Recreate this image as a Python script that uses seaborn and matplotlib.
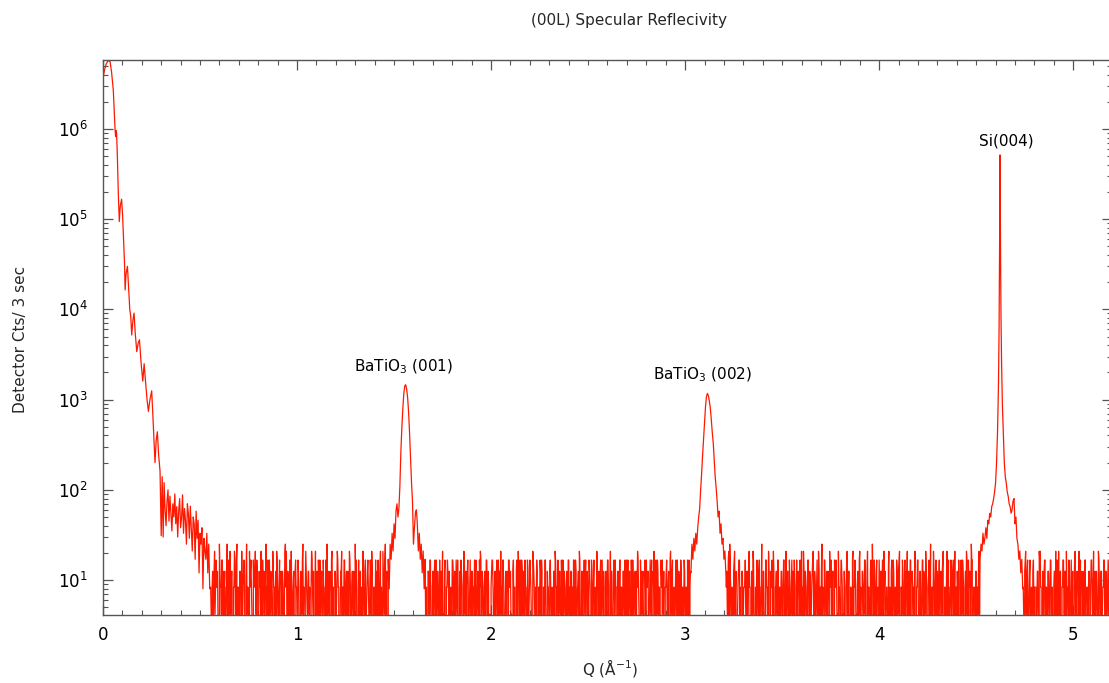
import numpy as np
import pandas as pd
import seaborn as sns
import matplotlib.pyplot as plt
from matplotlib.ticker import MultipleLocator, FixedLocator, LogLocator, NullFormatter

UNIT = 4.17  # one detector count after monitor normalisation
STEP = 0.005

# total reflection edge + Kiessig fringes (Q, counts)
refl_q = [0.000, 0.008, 0.016, 0.026, 0.036, 0.044, 0.053, 0.058, 0.062, 0.065,
          0.067, 0.070, 0.074, 0.079, 0.084, 0.089, 0.096, 0.101, 0.106, 0.111,
          0.114, 0.119, 0.126, 0.132, 0.138, 0.143, 0.148, 0.154, 0.160, 0.166,
          0.174, 0.181, 0.188, 0.196, 0.205, 0.212, 0.219, 0.227, 0.234, 0.242,
          0.251, 0.258, 0.264, 0.268, 0.274, 0.280, 0.287, 0.294, 0.300]
refl_i = [3.65e6, 4.5e6, 5.2e6, 5.7e6, 5.6e6, 4.3e6, 2.7e6, 1.6e6, 1.0e6, 8.2e5,
          9.6e5, 9.0e5, 5.0e5, 1.9e5, 9.4e4, 1.4e5, 1.66e5, 1.1e5, 6.0e4, 3.2e4,
          1.64e4, 2.5e4, 3.0e4, 1.7e4, 1.0e4, 8.3e3, 5.2e3, 7.5e3, 9.1e3, 5.5e3,
          3.4e3, 4.2e3, 4.6e3, 2.6e3, 1.6e3, 2.5e3, 1.6e3, 1.0e3, 740, 1.0e3,
          1250, 600, 300, 200, 350, 440, 240, 160, 31]

# noisy tail of the reflectivity, Q = 0.305 ... 0.550
tail_start = 0.305
tail_i = [140, 30, 120, 60, 40, 75, 100, 45, 85, 55,
          35, 70, 50, 90, 42, 65, 30, 58, 80, 38,
          50, 88, 33, 62, 46, 25, 70, 54, 29, 66,
          38, 21, 50, 42, 17, 58, 29, 46, 12, 33,
          25, 38, 8, 29, 21, 17, 33, 12, 25, 8]

# background counts (in detector counts), two interleaved sweeps from Q = 0.555
bg_start = 0.555
bg_counts_a = (
    "20315223062143202631523024162032513206215320425130"
    "32502136240231520352140231265020351203214203162052"
    "13205230512402314203621305203124203521403205213026"
    "40213205130241235021430215203162052302142031420632"
    "04231203412304213502412032410324203142051302423014"
    "32041203420513240213024302145031204230124203140235"
    "24013204231042031524032142031420531240213402140320"
    "41203520413024120314230241402351023420314203241052"
    "30412302142053102420314203140241302402135204321034"
    "23142035041320421302413052401234021320412034215024"
    "03215024132041362024130251302420315621035201342031"
    "24031520351024130261304215032150231420312405130214"
    "31204203152503124021350214032162041320521304231520"
    "42130251302052410315203142052130624130241320531205"
    "20413024135024120352140321502413024315203162052013"
    "14023502153024130521240314203514206412032153024103"
    "42301520312540213024130251520341203520135241302142"
    "20315520134203124102352051302413520314202513052031"
    "34021302415203152031240314205204130251302152031502"
)
bg_counts_b = (
    "12031421032410312042130251402130124031202410231402"
    "21043120134120321041203120521314021304213012410231"
    "31024102130241302140132041203152013024120314021302"
    "10420132041320413021024130152413024102134012031420"
    "21304102314021302413012031402130412013201402310214"
    "03124021302410321403120413024120314021034120314021"
    "14021304210312041302413021402310420130241302410213"
    "20130420131402312041032140312041302140123041202130"
    "13041203140213041203140213024103140213024102130412"
    "30214021304120341023120413021402314021302410312041"
    "04120314021302410231402130241302140312041302410312"
    "21304203140213041203104213024130214021304120314021"
    "14021304210312041302413021502310420130241302410213"
    "30120413021402312041032140312041302140123041202130"
    "13041203140213041203140213024103140213024102130412"
    "20314021304120341023120413021402314021302410312041"
    "04120314021302410231402130241302140312041302410312"
    "21304203140213041203104213024130214021304120314021"
    "14021304210312041302413021402310420130241302410213"
)

# Bragg peaks (Q, counts)
p001_q = [1.470, 1.475, 1.480, 1.485, 1.490, 1.495, 1.500, 1.505, 1.510, 1.515,
          1.520, 1.525, 1.530, 1.535, 1.540, 1.545, 1.550, 1.555, 1.560, 1.565,
          1.570, 1.575, 1.580, 1.585, 1.590, 1.595, 1.600, 1.605, 1.610, 1.615,
          1.620, 1.625, 1.630, 1.635, 1.640, 1.645, 1.650, 1.655, 1.660]
p001_i = [17, 8, 25, 17, 33, 21, 42, 29, 58, 70,
          50, 62, 110, 260, 480, 780, 1150, 1420, 1460, 1300,
          1050, 720, 420, 230, 120, 75, 25, 38, 55, 60,
          42, 21, 33, 17, 25, 12, 21, 8, 17]

p002_q = [3.030, 3.035, 3.040, 3.045, 3.050, 3.055, 3.060, 3.065, 3.070, 3.075,
          3.080, 3.085, 3.090, 3.095, 3.100, 3.105, 3.110, 3.115, 3.120, 3.125,
          3.130, 3.135, 3.140, 3.145, 3.150, 3.155, 3.160, 3.165, 3.170, 3.175,
          3.180, 3.185, 3.190, 3.195, 3.200, 3.205, 3.210]
p002_i = [12, 25, 17, 29, 21, 33, 25, 38, 50, 62,
          100, 150, 240, 360, 560, 830, 1080, 1170, 1100, 960,
          800, 600, 430, 330, 210, 140, 105, 75, 50, 58,
          33, 42, 25, 29, 17, 21, 12]

si_q = [4.520, 4.525, 4.530, 4.535, 4.540, 4.545, 4.550, 4.555, 4.560, 4.565,
        4.570, 4.575, 4.580, 4.585, 4.590, 4.595, 4.600, 4.605, 4.610, 4.615,
        4.618, 4.620, 4.622, 4.623, 4.624, 4.626, 4.628, 4.631, 4.635, 4.640,
        4.645, 4.650, 4.655, 4.660, 4.665, 4.670, 4.675, 4.680, 4.685, 4.690,
        4.695, 4.700, 4.705, 4.710, 4.715, 4.720, 4.725, 4.730, 4.735, 4.740]
si_i = [17, 25, 21, 33, 25, 29, 38, 29, 46, 42,
        55, 50, 65, 70, 80, 95, 120, 200, 430, 1500,
        6000, 25000, 150000, 515000, 170000, 30000, 8000, 2500, 900, 430,
        200, 140, 120, 95, 85, 70, 65, 55, 60, 75,
        80, 42, 50, 29, 25, 17, 21, 12, 17, 8]

peaks = [(p001_q, p001_i), (p002_q, p002_i), (si_q, si_i)]

labels = ['BaTiO$_3$ (001)', 'BaTiO$_3$ (002)', 'Si(004)']
label_q = [1.55, 3.09, 4.655]
label_i = [2300, 1880, 7.4e5]

y_decades = [1e1, 1e2, 1e3, 1e4, 1e5, 1e6]


def build_scan():
    q = list(refl_q)
    counts = list(refl_i)
    for k, v in enumerate(tail_i):
        q.append(round(tail_start + k * STEP, 4))
        counts.append(v)
    windows = [(min(pq), max(pq)) for pq, _ in peaks]
    for offset, digits in [(0.0, bg_counts_a), (STEP / 2, bg_counts_b)]:
        for k, c in enumerate(digits):
            qq = round(bg_start + offset + k * STEP, 5)
            if any(lo - 1e-9 <= qq <= hi + 1e-9 for lo, hi in windows):
                continue
            q.append(qq)
            counts.append(int(c) * UNIT)
    for pq, pi in peaks:
        q.extend(pq)
        counts.extend(pi)
    df = pd.DataFrame({'Q': q, 'counts': counts})
    return df.sort_values('Q').reset_index(drop=True)


def main():
    df = build_scan()

    sns.set_theme(style='ticks')
    plt.rcParams['font.family'] = ['DejaVu Sans']

    fig = plt.figure(figsize=(11.09, 6.83), dpi=100)
    ax = fig.add_axes([103 / 1109, 1 - 615 / 683, (1112 - 103) / 1109, (615 - 60) / 683])

    sns.lineplot(data=df, x='Q', y='counts', ax=ax, estimator=None, sort=False,
                 color='#ff1800', linewidth=0.9)
    ax.set_yscale('log')
    ax.set_xlim(0, 5.2)
    ax.set_ylim(4.1, 5.8e6)

    ax.xaxis.set_major_locator(MultipleLocator(1))
    ax.xaxis.set_minor_locator(MultipleLocator(0.1))
    ax.yaxis.set_major_locator(FixedLocator(y_decades))
    ax.yaxis.set_minor_locator(LogLocator(base=10, subs=np.arange(2, 10)))
    ax.yaxis.set_minor_formatter(NullFormatter())

    for side in ax.spines.values():
        side.set_color('#555555')
        side.set_linewidth(1.0)
    ax.tick_params(which='both', direction='in', top=True, right=True,
                   color='#555555', labelsize=12, labelcolor='black')
    ax.tick_params(which='major', length=7, width=0.9)
    ax.tick_params(which='minor', length=3.5, width=0.8)
    ax.tick_params(axis='x', pad=8)
    ax.tick_params(axis='y', pad=11)

    ax.set_xlabel('Q (Å$^{-1}$)', fontsize=11)
    ax.set_ylabel('Detector Cts/ 3 sec', fontsize=11)
    ax.xaxis.set_label_coords(0.503, -0.075)
    ax.yaxis.set_label_coords(-0.074, 0.497)

    for text, x, y in zip(labels, label_q, label_i):
        ax.text(x, y, text, ha='center', va='center', fontsize=11, color='black')

    fig.text(629 / 1109, 1 - 20 / 683, '(00L) Specular Reflecivity',
             ha='center', va='center', fontsize=11)

    fig.savefig('out.png', dpi=100)
    plt.close(fig)


if __name__ == '__main__':
    main()
